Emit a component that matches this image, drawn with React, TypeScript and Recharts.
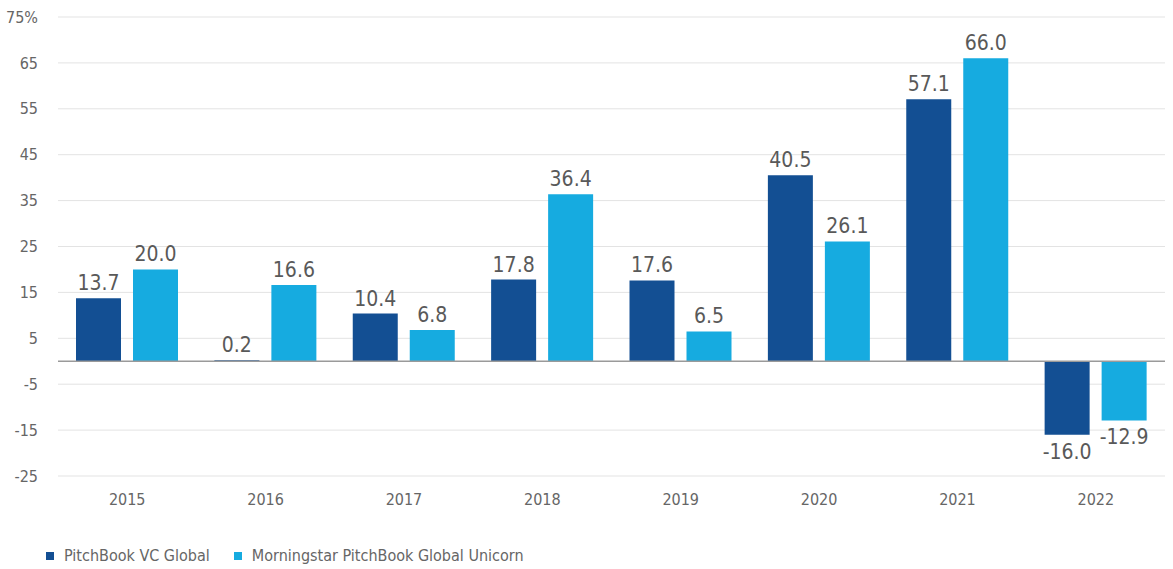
import { BarChart, Bar, XAxis, YAxis, CartesianGrid, ReferenceLine, LabelList } from 'recharts'

const years = ['2015', '2016', '2017', '2018', '2019', '2020', '2021', '2022']
const vcGlobal = [13.7, 0.2, 10.4, 17.8, 17.6, 40.5, 57.1, -16.0]
const unicorn = [20.0, 16.6, 6.8, 36.4, 6.5, 26.1, 66.0, -12.9]
const yTicks = [-25, -15, -5, 5, 15, 25, 35, 45, 55, 65, 75]

const DARK = '#134f93'
const LIGHT = '#16abe0'
const FONT = '"Liberation Sans Narrow", "DejaVu Sans Condensed", Roboto, sans-serif'

const data = years.map((y, i) => ({ year: y, vc: vcGlobal[i], uni: unicorn[i] }))

// label above positive bars, below negative ones
function ValLabel(props: any) {
  const { x, y, width, height, value } = props
  const top = Math.min(y, y + height)
  const bottom = Math.max(y, y + height)
  const ty = value < 0 ? bottom + 24 : top - 8
  return (
    <text x={x + width / 2} y={ty} textAnchor="middle" fontSize={21} fill="#595959" fontFamily={FONT}>
      {value.toFixed(1)}
    </text>
  )
}

function Swatch({ color, label }: { color: string; label: string }) {
  return (
    <span style={{ display: 'flex', alignItems: 'center', gap: 10, marginRight: 24 }}>
      <span style={{ width: 8, height: 8, background: color, display: 'inline-block' }} />
      {label}
    </span>
  )
}

export default function App() {
  return (
    <div style={{ position: 'absolute', left: 0, top: 0, width: 1173, height: 569, background: '#fff', fontFamily: FONT }}>
      <BarChart width={1173} height={520} data={data} margin={{ top: 17, right: 8, left: 0, bottom: 0 }}
        barCategoryGap={18} barGap={12}>
        <CartesianGrid vertical={false} stroke="#e3e3e3" />
        <XAxis dataKey="year" axisLine={false} tickLine={false} height={44} tickMargin={12}
          tick={{ fontSize: 16, fill: '#666', fontFamily: FONT }} />
        <YAxis domain={[-25, 75]} ticks={yTicks} axisLine={false} tickLine={false} width={58} tickMargin={14}
          tickFormatter={(v: number) => (v === 75 ? '75%' : String(v))}
          tick={{ fontSize: 16, fill: '#666', fontFamily: FONT }} />
        <ReferenceLine y={0} stroke="#9a9a9a" strokeWidth={1.5} />
        <Bar dataKey="vc" fill={DARK} isAnimationActive={false}>
          <LabelList dataKey="vc" content={ValLabel} />
        </Bar>
        <Bar dataKey="uni" fill={LIGHT} isAnimationActive={false}>
          <LabelList dataKey="uni" content={ValLabel} />
        </Bar>
      </BarChart>
      <div style={{ position: 'absolute', left: 46, top: 546, display: 'flex', fontSize: 16, color: '#666' }}>
        <Swatch color={DARK} label="PitchBook VC Global" />
        <Swatch color={LIGHT} label="Morningstar PitchBook Global Unicorn" />
      </div>
    </div>
  )
}
